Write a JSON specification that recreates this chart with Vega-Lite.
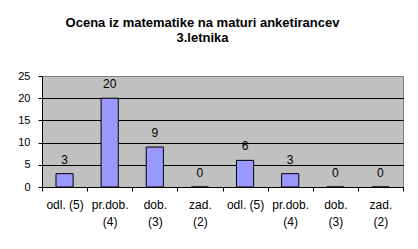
{
  "$schema": "https://vega.github.io/schema/vega-lite/v6.json",
  "width": 361,
  "height": 111,
  "autosize": "none",
  "padding": {"left": 42, "top": 76, "right": 15, "bottom": 62},
  "background": "white",
  "title": {
    "text": ["Ocena iz matematike na maturi anketirancev", "3.letnika"],
    "font": "Liberation Sans",
    "fontSize": 13,
    "fontWeight": "bold",
    "color": "black",
    "anchor": "middle",
    "dx": -20,
    "offset": 25,
    "lineHeight": 15
  },
  "config": {
    "view": {"fill": "#C0C0C0", "stroke": "#808080", "strokeWidth": 1},
    "font": "Liberation Sans"
  },
  "data": {
    "values": [
      {"slot": 1, "ocena": "odl. (5)", "n": 3},
      {"slot": 2, "ocena": "pr.dob. (4)", "n": 20},
      {"slot": 3, "ocena": "dob. (3)", "n": 9},
      {"slot": 4, "ocena": "zad. (2)", "n": 0},
      {"slot": 5, "ocena": "odl. (5)", "n": 6},
      {"slot": 6, "ocena": "pr.dob. (4)", "n": 3},
      {"slot": 7, "ocena": "dob. (3)", "n": 0},
      {"slot": 8, "ocena": "zad. (2)", "n": 0}
    ]
  },
  "encoding": {
    "x": {
      "field": "slot",
      "type": "ordinal",
      "scale": {"paddingInner": 0, "paddingOuter": 0},
      "axis": {
        "title": null,
        "labelAngle": 0,
        "labelExpr": "['odl. (5)', ['pr.dob.', '(4)'], ['dob.', '(3)'], ['zad.', '(2)'], 'odl. (5)', ['pr.dob.', '(4)'], ['dob.', '(3)'], ['zad.', '(2)']][datum.value - 1]",
        "labelFont": "Liberation Sans",
        "labelFontSize": 12,
        "labelColor": "black",
        "labelPadding": 8,
        "labelLineHeight": 17,
        "tickBand": "extent",
        "tickColor": "black",
        "tickSize": 4,
        "domainColor": "black",
        "grid": false
      }
    },
    "y": {
      "field": "n",
      "type": "quantitative",
      "scale": {"domain": [0, 25], "nice": false},
      "axis": {
        "title": null,
        "values": [0, 5, 10, 15, 20, 25],
        "labelFont": "Liberation Sans",
        "labelFontSize": 11,
        "labelColor": "black",
        "labelPadding": 8,
        "tickColor": "black",
        "tickSize": 4,
        "domainColor": "black",
        "grid": true,
        "gridColor": {"condition": {"test": "datum.value == 25", "value": "#808080"}, "value": "black"},
        "gridOpacity": 1
      }
    }
  },
  "layer": [
    {
      "mark": {"type": "bar", "width": {"band": 0.38}, "fill": "#9999FF", "stroke": "black", "strokeWidth": 1}
    },
    {
      "mark": {"type": "text", "baseline": "alphabetic", "dy": -10, "fontSize": 12, "font": "Liberation Sans", "color": "black"},
      "encoding": {"text": {"field": "n", "type": "quantitative"}}
    }
  ]
}
